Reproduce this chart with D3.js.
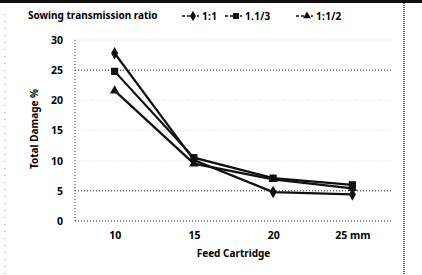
<!DOCTYPE html>
<html>
<head>
<meta charset="utf-8">
<script src="https://cdn.jsdelivr.net/npm/d3@7"></script>
<style>
  body { margin: 0; background: #fff; }
  text { font-family: "Noto Sans", "DejaVu Sans", sans-serif; font-weight: bold; fill: #000; }
</style>
</head>
<body>
<div id="chart"></div>
<script>
// data
var categories = ["10", "15", "20", "25"];
var tickLabels = ["10", "15", "20", "25 mm"];
var seriesNames = ["1:1", "1.1/3", "1:1/2"];
var ratio11 = [27.8, 10.1, 4.8, 4.4];
var ratio113 = [24.8, 10.5, 7.1, 6.0];
var ratio112 = [21.6, 9.5, 6.9, 5.4];
var yTicks = [0, 5, 10, 15, 20, 25, 30];
var strongGrid = [25, 5];

var svgWidth = 422;
var svgHeight = 275;

var plot = { left: 75, right: 392, top: 40, bottom: 221 };

var svg = d3.select("#chart")
  .append("svg")
  .attr("width", svgWidth)
  .attr("height", svgHeight);

// page frame from the scan
svg.append("line")
  .attr("x1", 0).attr("x2", svgWidth)
  .attr("y1", 1.5).attr("y2", 1.5)
  .attr("stroke", "#111")
  .attr("stroke-width", 3);

svg.append("line")
  .attr("x1", 404).attr("x2", 404)
  .attr("y1", 3).attr("y2", svgHeight)
  .attr("stroke", "#222")
  .attr("stroke-width", 1.5)
  .attr("stroke-dasharray", "1,1");

svg.append("line")
  .attr("x1", 5).attr("x2", 5)
  .attr("y1", 14).attr("y2", svgHeight)
  .attr("stroke", "#888")
  .attr("stroke-width", 1)
  .attr("stroke-dasharray", "1,6");

var xScale = d3.scalePoint()
  .domain(categories)
  .range([plot.left, plot.right])
  .padding(0.5);

var yScale = d3.scaleLinear()
  .domain([0, 30])
  .range([plot.bottom, plot.top]);

// gridlines
svg.append("g")
  .selectAll("line")
  .data(yTicks)
  .enter()
  .append("line")
  .attr("x1", plot.left)
  .attr("x2", plot.right)
  .attr("y1", d => yScale(d))
  .attr("y2", d => yScale(d))
  .attr("stroke", d => (d === 0 || strongGrid.indexOf(d) >= 0) ? "#222" : "#ddd")
  .attr("stroke-width", 1)
  .attr("stroke-dasharray", "1,2");

// left axis line
svg.append("line")
  .attr("x1", plot.left).attr("x2", plot.left)
  .attr("y1", plot.top).attr("y2", plot.bottom)
  .attr("stroke", "#333")
  .attr("stroke-width", 1)
  .attr("stroke-dasharray", "1,2");

// y axis
var leftAxis = d3.axisLeft(yScale)
  .tickValues(yTicks)
  .tickSize(0)
  .tickPadding(12);

var yAxis = svg.append("g")
  .attr("transform", `translate(${plot.left}, 0)`)
  .call(leftAxis);
yAxis.select(".domain").remove();
yAxis.selectAll("text")
  .style("font-size", "10.5px")
  .style("font-family", "\"Noto Sans\", sans-serif");

// x axis
var bottomAxis = d3.axisBottom(xScale)
  .tickSize(0)
  .tickPadding(11)
  .tickFormat((d, i) => tickLabels[i]);

var xAxis = svg.append("g")
  .attr("transform", `translate(0, ${plot.bottom})`)
  .call(bottomAxis);
xAxis.select(".domain").remove();
xAxis.selectAll("text")
  .style("font-size", "10.5px")
  .style("font-family", "\"Noto Sans\", sans-serif");

// axis titles
svg.append("text")
  .attr("x", (plot.left + plot.right) / 2)
  .attr("y", 257)
  .attr("text-anchor", "middle")
  .style("font-size", "10px")
  .text("Feed Cartridge");

svg.append("text")
  .attr("transform", "rotate(-90)")
  .attr("x", -129)
  .attr("y", 38)
  .attr("text-anchor", "middle")
  .style("font-size", "10px")
  .text("Total Damage %");

// series
var series = [
  { name: seriesNames[0], values: ratio11, symbol: d3.symbolDiamond, size: 44 },
  { name: seriesNames[1], values: ratio113, symbol: d3.symbolSquare, size: 52 },
  { name: seriesNames[2], values: ratio112, symbol: d3.symbolTriangle, size: 38 }
];

var line = d3.line()
  .x((d, i) => xScale(categories[i]))
  .y(d => yScale(d));

series.forEach(function(s) {
  svg.append("path")
    .datum(s.values)
    .attr("d", line)
    .attr("fill", "none")
    .attr("stroke", "#111")
    .attr("stroke-width", 2.2);

  svg.append("g")
    .selectAll("path")
    .data(s.values)
    .enter()
    .append("path")
    .attr("d", d3.symbol().type(s.symbol).size(s.size))
    .attr("transform", (d, i) => `translate(${xScale(categories[i])}, ${yScale(d)})`)
    .attr("fill", "#111");
});

// legend
svg.append("text")
  .attr("x", 28)
  .attr("y", 19)
  .style("font-size", "10px")
  .text("Sowing transmission ratio");

var legendX = [182, 225, 296];

series.forEach(function(s, i) {
  var g = svg.append("g")
    .attr("transform", `translate(${legendX[i]}, 16)`);

  g.append("line")
    .attr("x1", 0).attr("x2", 17)
    .attr("y1", 0).attr("y2", 0)
    .attr("stroke", "#111")
    .attr("stroke-width", 1.5)
    .attr("stroke-dasharray", "3,2");

  g.append("path")
    .attr("d", d3.symbol().type(s.symbol).size(s.size * 0.7))
    .attr("transform", "translate(11, 0)")
    .attr("fill", "#111");

  g.append("text")
    .attr("x", 20)
    .attr("y", 3.5)
    .style("font-size", "10px")
    .style("letter-spacing", "0.3px")
    .text(s.name);
});
</script>
</body>
</html>
